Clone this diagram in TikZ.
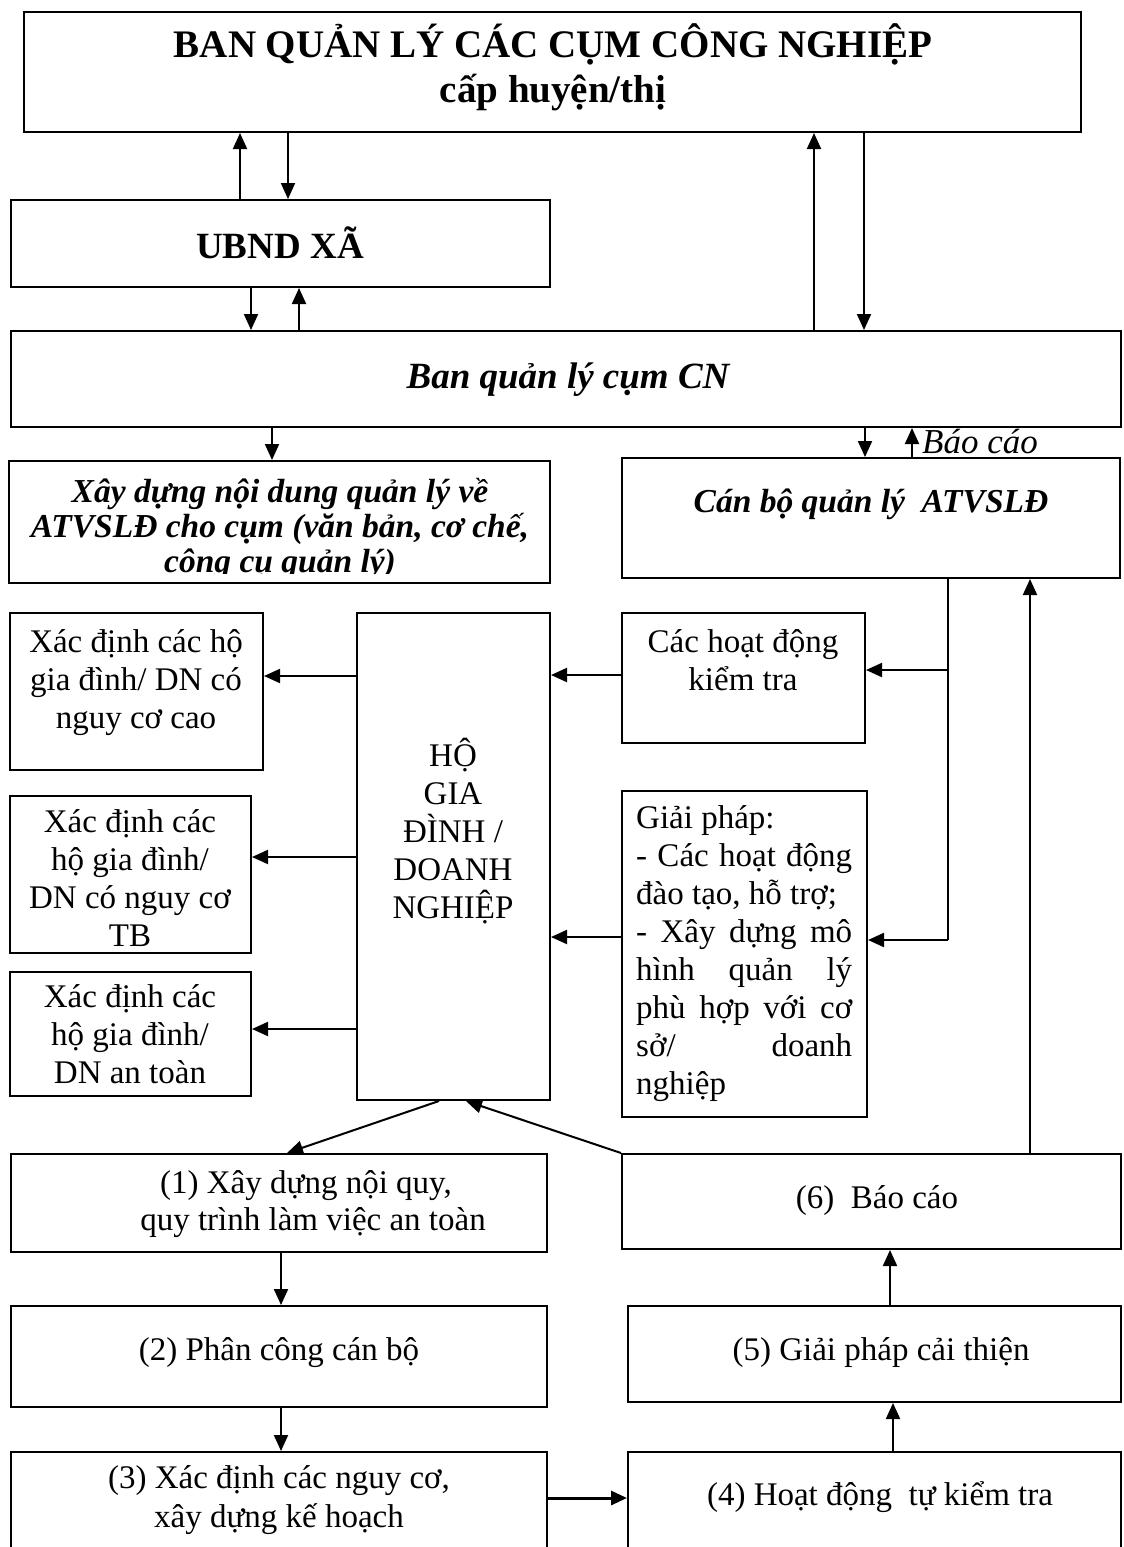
\documentclass[tikz,border=0pt]{standalone}
\usepackage{fontspec}
\setmainfont{Liberation Serif}
\usetikzlibrary{arrows.meta,fit}
\newcommand\fsreg{\fontsize{33}{38}\selectfont}
\newcommand\fstitle{\fontsize{39}{44}\selectfont\bfseries}
\newcommand\fshead{\fontsize{37}{42}\selectfont\bfseries}
\newcommand\fsbi{\fontsize{33.5}{36}\selectfont\bfseries\itshape}
\newcommand\fsbihead{\fontsize{37}{42}\selectfont\bfseries\itshape}
\newcommand\fsit{\fontsize{35}{40}\selectfont\itshape}
\newcommand\jline[1]{\makebox[216pt][s]{#1}}
\tikzset{
  bx/.style={draw, line width=2pt, rectangle, inner sep=0pt},
  ar/.style={line width=2pt, -{Triangle[length=16pt,width=14pt]}},
  ln/.style={line width=2pt},
  txt/.style={anchor=base, inner sep=0pt, font=\fsreg},
  ltxt/.style={anchor=base west, inner sep=0pt, font=\fsreg},
}
\begin{document}
\begin{tikzpicture}[x=1pt,y=-1pt]
\useasboundingbox (0,0) rectangle (1124,1547);
\clip (0,0) rectangle (1124,1547);

% ---------- boxes ----------
\node[bx, fit={(24,12) (1081,132)}] (top) {};
\node[bx, fit={(11,200) (550,287)}] (ubnd) {};
\node[bx, fit={(11,331) (1121,427)}] (ban) {};
\node[bx, fit={(9,461) (550,583)}] (xd) {};
\node[bx, fit={(622,458) (1120,578)}] (cb) {};
\node[bx, fit={(10,613) (263,770)}] (a1) {};
\node[bx, fit={(10,796) (251,953)}] (a2) {};
\node[bx, fit={(10,972) (251,1096)}] (a3) {};
\node[bx, fit={(357,613) (550,1100)}] (ho) {};
\node[bx, fit={(622,613) (865,743)}] (kt) {};
\node[bx, fit={(622,791) (867,1117)}] (gp) {};
\node[bx, fit={(11,1154) (547,1252)}] (s1) {};
\node[bx, fit={(11,1306) (547,1407)}] (s2) {};
\node[bx, fit={(11,1452) (547,1580)}] (s3) {};
\node[bx, fit={(628,1452) (1121,1580)}] (s4) {};
\node[bx, fit={(628,1306) (1121,1402)}] (s5) {};
\node[bx, fit={(622,1154) (1121,1249)}] (s6) {};

% ---------- texts ----------
\node[txt, font=\fstitle] (topa) at (553,57) {BAN QUẢN LÝ CÁC CỤM CÔNG NGHIỆP};
\node[txt, font=\fstitle] (topb) at (553,102) {cấp huyện/thị};
\node[txt, font=\fshead] (ubndt) at (280,258) {UBND XÃ};
\node[txt, font=\fsbihead] (bant) at (568,388) {Ban quản lý cụm CN};
\begin{scope}
\clip (9,461) rectangle (550,573);
\node[txt, font=\fsbi] (xda) at (280,502) {Xây dựng nội dung quản lý về};
\node[txt, font=\fsbi] (xdb) at (280,537) {ATVSLĐ cho cụm (văn bản, cơ chế,};
\node[txt, font=\fsbi] (xdc) at (280,572) {công cụ quản lý)};
\end{scope}
\node[txt, font=\fsbi] (cbt) at (871,512) {Cán bộ quản lý\ \ ATVSLĐ};
\node[anchor=base west, inner sep=0pt, font=\fsit] (bc) at (922,453) {Báo cáo};

\node[txt] (a1a) at (136,652) {Xác định các hộ};
\node[txt] (a1b) at (136,690) {gia đình/ DN có};
\node[txt] (a1c) at (136,728) {nguy cơ cao};

\node[txt] (a2a) at (130,832) {Xác định các};
\node[txt] (a2b) at (130,870) {hộ gia đình/};
\node[txt] (a2c) at (130,908) {DN có nguy cơ};
\node[txt] (a2d) at (130,946) {TB};

\node[txt] (a3a) at (130,1007) {Xác định các};
\node[txt] (a3b) at (130,1045) {hộ gia đình/};
\node[txt] (a3c) at (130,1083) {DN an toàn};

\node[txt] (hoa) at (453,766) {HỘ};
\node[txt] (hob) at (453,804) {GIA};
\node[txt] (hoc) at (453,842) {ĐÌNH /};
\node[txt] (hod) at (453,880) {DOANH};
\node[txt] (hoe) at (453,918) {NGHIỆP};

\node[txt] (kta) at (743,652) {Các hoạt động};
\node[txt] (ktb) at (743,690) {kiểm tra};

\node[ltxt] (gpa) at (636,828) {Giải pháp:};
\node[ltxt] (gpb) at (636,866) {\jline{- Các hoạt động}};
\node[ltxt] (gpc) at (636,904) {đào tạo, hỗ trợ;};
\node[ltxt] (gpd) at (636,942) {\jline{- Xây dựng mô}};
\node[ltxt] (gpe) at (636,980) {\jline{hình quản lý}};
\node[ltxt] (gpf) at (636,1018) {\jline{phù hợp với cơ}};
\node[ltxt] (gpg) at (636,1056) {\jline{sở/ doanh}};
\node[ltxt] (gph) at (636,1094) {nghiệp};

\node[txt] (s1a) at (306,1193) {(1) Xây dựng nội quy,};
\node[txt] (s1b) at (313,1230) {quy trình làm việc an toàn};
\node[txt] (s2a) at (279,1360) {(2) Phân công cán bộ};
\node[txt] (s3a) at (279,1488) {(3) Xác định các nguy cơ,};
\node[txt] (s3b) at (279,1527) {xây dựng kế hoạch};
\node[txt] (s4a) at (880,1505) {(4) Hoạt động\ \ tự kiểm tra};
\node[txt] (s5a) at (881,1360) {(5) Giải pháp cải thiện};
\node[txt] (s6a) at (877,1208) {(6)\ \ Báo cáo};

% ---------- connectors ----------
\draw[ar] (240,0 |- ubnd.north) -- (240,0 |- top.south);
\draw[ar] (288,0 |- top.south) -- (288,0 |- ubnd.north);
\draw[ar] (814,0 |- ban.north) -- (814,0 |- top.south);
\draw[ar] (864,0 |- top.south) -- (864,0 |- ban.north);
\draw[ar] (251,0 |- ubnd.south) -- (251,0 |- ban.north);
\draw[ar] (299,0 |- ban.north) -- (299,0 |- ubnd.south);
\draw[ar] (272,0 |- ban.south) -- (272,0 |- xd.north);
\draw[ar] (865,0 |- ban.south) -- (865,0 |- cb.north);
\draw[ar] (912,0 |- cb.north) -- (912,0 |- ban.south);

\draw[ar] (ho.west |- 0,676) -- (a1.east |- 0,676);
\draw[ar] (ho.west |- 0,857) -- (a2.east |- 0,857);
\draw[ar] (ho.west |- 0,1029) -- (a3.east |- 0,1029);
\draw[ar] (kt.west |- 0,675) -- (ho.east |- 0,675);
\draw[ar] (gp.west |- 0,937) -- (ho.east |- 0,937);

\coordinate (j1) at (948,670);
\coordinate (j2) at (948,940);
\draw[ln] (948,0 |- cb.south) -- (j2);
\draw[ar] (j1) -- (kt.east |- j1);
\draw[ar] (j2) -- (gp.east |- j2);

\draw[ar] (1030,0 |- s6.north) -- (1030,0 |- cb.south);

\draw[ar] (439,0 |- ho.south) -- (287,0 |- s1.north);
\draw[ar] (s6.north west) -- (466,0 |- ho.south);

\draw[ar] (281,0 |- s1.south) -- (281,0 |- s2.north);
\draw[ar] (281,0 |- s2.south) -- (281,0 |- s3.north);
\draw[ar, line width=3pt] (s3.east |- 0,1498) -- (s4.west |- 0,1498);
\draw[ar] (893,0 |- s4.north) -- (893,0 |- s5.south);
\draw[ar] (890,0 |- s5.north) -- (890,0 |- s6.south);
\end{tikzpicture}
\end{document}
